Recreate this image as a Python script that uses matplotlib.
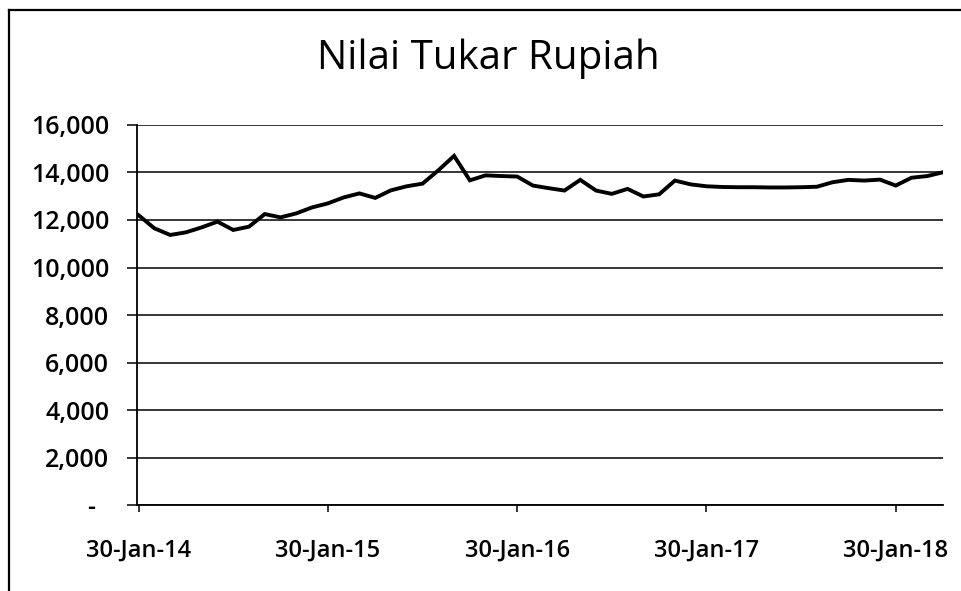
import matplotlib
matplotlib.use("Agg")
import matplotlib.pyplot as plt
from matplotlib.lines import Line2D
from matplotlib.ticker import FuncFormatter

# monthly rupiah per USD, Jan 2014 .. Apr 2018
rates = [
    12200, 11650, 11370, 11480, 11690, 11930, 11580, 11720, 12250, 12110, 12280, 12530,
    12700, 12950, 13120, 12930, 13250, 13420, 13530, 14090, 14700, 13670, 13880, 13850,
    13830, 13450, 13340, 13240, 13690, 13240, 13100, 13310, 12990, 13080, 13660, 13500,
    13420, 13390, 13380, 13380, 13370, 13370, 13380, 13400, 13590, 13690, 13660, 13700,
    13450, 13780, 13850, 14010,
]
tick_pos = [0, 12, 24, 36, 48]
tick_labels = ["30-Jan-14", "30-Jan-15", "30-Jan-16", "30-Jan-17", "30-Jan-18"]
y_ticks = [0, 2000, 4000, 6000, 8000, 10000, 12000, 14000, 16000]

font = "Open Sans"

fig = plt.figure(figsize=(9.61, 5.91), dpi=100)
ax = fig.add_axes([0.1426, 0.1455, 0.9813 - 0.1426, 0.7885 - 0.1455])

ax.plot(range(len(rates)), rates, color="black", lw=2.8, solid_joinstyle="miter")

ax.set_ylim(0, 16000)
ax.set_xlim(-0.1, len(rates) - 1)
ax.set_yticks(y_ticks)
ax.yaxis.set_major_formatter(FuncFormatter(lambda v, p: "-  " if v == 0 else f"{int(v):,}"))
ax.set_xticks(tick_pos)
ax.set_xticklabels(tick_labels)

ax.grid(axis="y", color="black", lw=1.1)
ax.set_axisbelow(True)
for side in ["top", "right"]:
    ax.spines[side].set_visible(False)
ax.spines["left"].set_linewidth(1.3)
ax.spines["bottom"].set_linewidth(1.3)
ax.tick_params(axis="y", length=7, width=1.1, pad=13, labelsize=18)
ax.tick_params(axis="x", length=5, width=1.1, pad=19, labelsize=17)
for lab in ax.get_xticklabels() + ax.get_yticklabels():
    lab.set_fontfamily(font)
    lab.set_fontweight("semibold")

fig.text(0.508, 0.9, "Nilai Tukar Rupiah", ha="center", va="center",
         fontsize=29, family=font)

# outer chart border (left and top edges of the scanned frame)
fig.add_artist(Line2D([9 / 961, 9 / 961], [0, 1 - 10 / 591], color="black", lw=1.6,
                      transform=fig.transFigure))
fig.add_artist(Line2D([9 / 961, 1], [1 - 10 / 591, 1 - 10 / 591], color="black", lw=1.6,
                      transform=fig.transFigure))

fig.savefig("out.png", dpi=100)
